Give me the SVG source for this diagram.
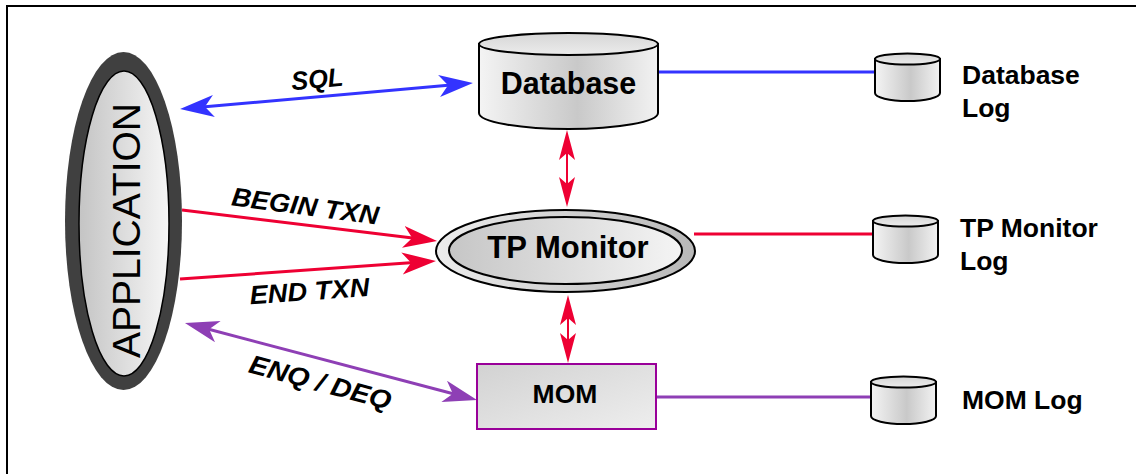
<svg xmlns="http://www.w3.org/2000/svg" xmlns:xlink="http://www.w3.org/1999/xlink" width="1136" height="474" viewBox="0 0 1136 474">
  <style>
    .frame { fill: none; stroke: #000; stroke-width: 2; }
    .title { font-family: "Liberation Sans", Arial, sans-serif; font-weight: bold; fill: #000; }
    .label { font-family: "Liberation Sans", Arial, sans-serif; font-weight: bold; font-style: italic; font-size: 26px; fill: #000; text-anchor: middle; }
    .logtext { font-family: "Liberation Sans", Arial, sans-serif; font-weight: bold; font-size: 26.5px; fill: #000; }
    .outline { stroke: #000; stroke-width: 2; }
    .sql { stroke: #3333ff; stroke-width: 3; fill: none; }
    .txn { stroke: #ee0033; stroke-width: 3; fill: none; }
    .sync { stroke: #ee0033; stroke-width: 2; fill: none; }
    .queue { stroke: #8e3fb5; stroke-width: 3; fill: none; }
  </style>
  <defs>
    <linearGradient id="cylBody" x1="0" y1="0" x2="1" y2="0">
      <stop offset="0" stop-color="#f4f4f4"/>
      <stop offset="0.55" stop-color="#c9c9c9"/>
      <stop offset="1" stop-color="#f2f2f2"/>
    </linearGradient>
    <linearGradient id="cylTop" x1="0" y1="0" x2="0" y2="1">
      <stop offset="0" stop-color="#d6d6d6"/>
      <stop offset="1" stop-color="#ececec"/>
    </linearGradient>
    <linearGradient id="appFill" x1="0" y1="0" x2="1" y2="0">
      <stop offset="0" stop-color="#c4c4c4"/>
      <stop offset="1" stop-color="#f6f6f6"/>
    </linearGradient>
    <linearGradient id="tpInner" x1="0" y1="0" x2="1" y2="0">
      <stop offset="0" stop-color="#c6c6c6"/>
      <stop offset="1" stop-color="#f4f4f4"/>
    </linearGradient>
    <linearGradient id="tpOuter" x1="0" y1="0" x2="1" y2="0">
      <stop offset="0" stop-color="#ececec"/>
      <stop offset="1" stop-color="#b8b8b8"/>
    </linearGradient>
    <linearGradient id="momFill" x1="0" y1="0" x2="1" y2="1">
      <stop offset="0" stop-color="#d2d2d2"/>
      <stop offset="1" stop-color="#eeeeee"/>
    </linearGradient>

    <!-- notched arrowheads; refX sits inside the head so the shaft end is hidden -->
    <marker id="headBlue" markerUnits="userSpaceOnUse" markerWidth="36" markerHeight="24" refX="26" refY="11" orient="auto-start-reverse">
      <path d="M0,0 L34,11 L0,22 L9,11 Z" fill="#3333ff"/>
    </marker>
    <marker id="headRed" markerUnits="userSpaceOnUse" markerWidth="36" markerHeight="24" refX="26" refY="11" orient="auto-start-reverse">
      <path d="M0,0 L34,11 L0,22 L9,11 Z" fill="#ee0033"/>
    </marker>
    <marker id="headPurple" markerUnits="userSpaceOnUse" markerWidth="36" markerHeight="24" refX="26" refY="11" orient="auto-start-reverse">
      <path d="M0,0 L34,11 L0,22 L9,11 Z" fill="#8e3fb5"/>
    </marker>
    <marker id="headSync" markerUnits="userSpaceOnUse" markerWidth="32" markerHeight="18" refX="24" refY="8" orient="auto-start-reverse">
      <path d="M0,0 L30,8 L0,16 L7,8 Z" fill="#ee0033"/>
    </marker>

    <!-- small log cylinder, 67 x 48 -->
    <g id="logCylinder">
      <path d="M1,6 L1,40 A32.5,8 0 0 0 66,40 L66,6 Z" fill="url(#cylBody)" class="outline"/>
      <ellipse cx="33.5" cy="6" rx="32.5" ry="5.5" fill="url(#cylTop)" class="outline"/>
    </g>
  </defs>

  <rect x="0" y="0" width="1136" height="474" fill="#fff"/>
  <path class="frame" d="M7,474 L7,6 L1136,6"/>

  <!-- connectors -->
  <g id="connectors">
    <line class="sql" x1="188" y1="108.3" x2="465" y2="83.7" marker-start="url(#headBlue)" marker-end="url(#headBlue)"/>
    <line class="txn" x1="182" y1="210" x2="429.1" y2="240" marker-end="url(#headRed)"/>
    <line class="txn" x1="180" y1="279" x2="428" y2="261.6" marker-end="url(#headRed)"/>
    <line class="queue" x1="192.7" y1="325" x2="469.3" y2="398" marker-start="url(#headPurple)" marker-end="url(#headPurple)"/>
    <line class="sync" x1="567" y1="136" x2="567" y2="201" marker-start="url(#headSync)" marker-end="url(#headSync)"/>
    <line class="sync" x1="568" y1="301" x2="568" y2="357" marker-start="url(#headSync)" marker-end="url(#headSync)"/>
    <line class="sql" x1="657" y1="72" x2="875" y2="72"/>
    <line class="txn" x1="694" y1="234" x2="873" y2="234"/>
    <line class="queue" x1="655" y1="397" x2="871" y2="397"/>

    <text class="label" transform="translate(318,88) rotate(-5)" textLength="52" lengthAdjust="spacingAndGlyphs">SQL</text>
    <text class="label" transform="translate(304,215) rotate(7.5)" textLength="148" lengthAdjust="spacingAndGlyphs">BEGIN TXN</text>
    <text class="label" transform="translate(310,300) rotate(-4)" textLength="120" lengthAdjust="spacingAndGlyphs">END TXN</text>
    <text class="label" transform="translate(318,391) rotate(15)" textLength="146" lengthAdjust="spacingAndGlyphs">ENQ / DEQ</text>
  </g>

  <!-- application -->
  <g id="application">
    <ellipse cx="123.5" cy="221" rx="58.5" ry="169" fill="#404040"/>
    <ellipse cx="124" cy="223.5" rx="45" ry="152.5" fill="url(#appFill)" stroke="#000" stroke-width="1.5"/>
    <text transform="translate(140,230.5) rotate(-90)" text-anchor="middle" font-family="Liberation Sans, Arial, sans-serif" font-size="39" fill="#000">APPLICATION</text>
  </g>

  <!-- database -->
  <g id="database">
    <path d="M479,44 L479,113 A89.5,16 0 0 0 658,113 L658,44 Z" fill="url(#cylBody)" class="outline"/>
    <ellipse cx="568.5" cy="44" rx="89.5" ry="11" fill="url(#cylTop)" class="outline"/>
    <text class="title" x="568.5" y="94" font-size="30.5" text-anchor="middle">Database</text>
  </g>

  <!-- TP monitor -->
  <g id="tp-monitor">
    <ellipse cx="565.5" cy="251" rx="129.5" ry="41" fill="url(#tpOuter)" class="outline"/>
    <ellipse cx="565.5" cy="250.5" rx="116.5" ry="33.5" fill="url(#tpInner)" class="outline"/>
    <text class="title" x="568" y="258" font-size="31" text-anchor="middle">TP Monitor</text>
  </g>

  <!-- message-oriented middleware -->
  <g id="mom">
    <rect x="477" y="364" width="179" height="65" fill="url(#momFill)" stroke="#990099" stroke-width="2"/>
    <text class="title" x="565" y="403" font-size="26.5" text-anchor="middle">MOM</text>
  </g>

  <!-- logs -->
  <g id="database-log">
    <use xlink:href="#logCylinder" x="874" y="53"/>
    <text class="logtext" x="962" y="84">Database</text>
    <text class="logtext" x="962" y="117">Log</text>
  </g>
  <g id="tp-monitor-log">
    <use xlink:href="#logCylinder" x="872" y="215"/>
    <text class="logtext" x="960" y="237">TP Monitor</text>
    <text class="logtext" x="960" y="270">Log</text>
  </g>
  <g id="mom-log">
    <use xlink:href="#logCylinder" x="870" y="376"/>
    <text class="logtext" x="962" y="409">MOM Log</text>
  </g>
</svg>
